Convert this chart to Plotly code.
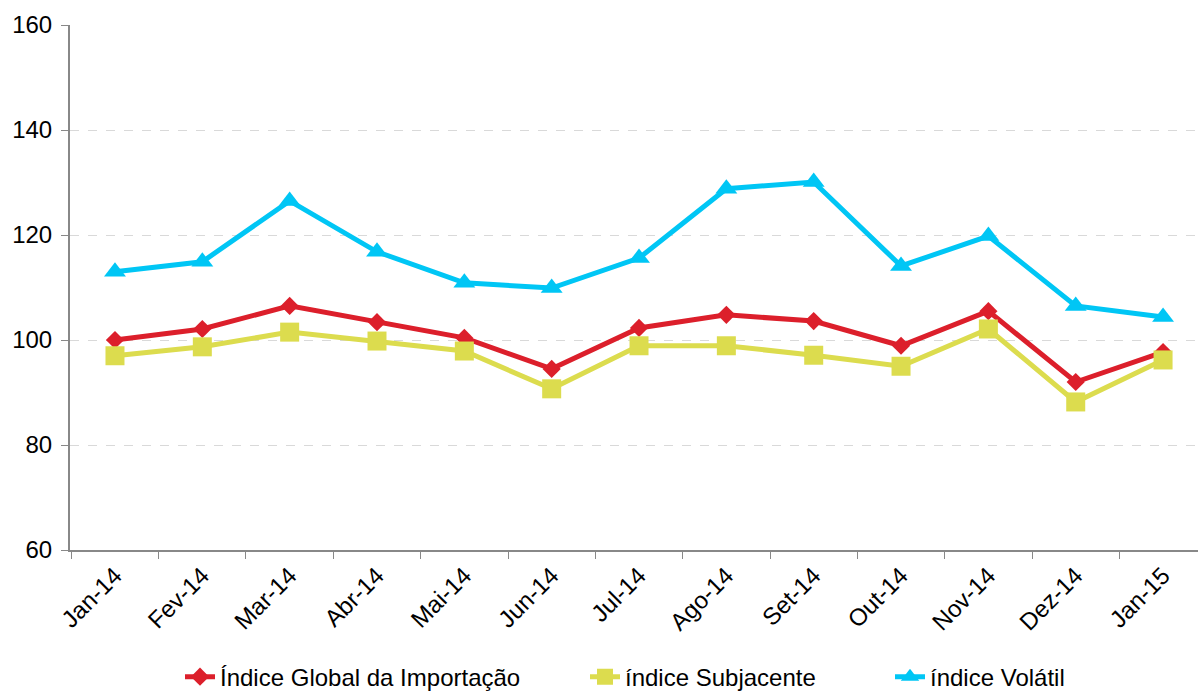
import plotly.graph_objects as go

months = ["Jan-14", "Fev-14", "Mar-14", "Abr-14", "Mai-14", "Jun-14", "Jul-14",
          "Ago-14", "Set-14", "Out-14", "Nov-14", "Dez-14", "Jan-15"]
global_idx = [100.0, 102.1, 106.5, 103.4, 100.4, 94.5, 102.3, 104.8, 103.6, 98.9, 105.5, 92.0, 97.7]
subjacente = [97.0, 98.7, 101.5, 99.8, 97.9, 90.7, 98.9, 98.9, 97.1, 95.0, 102.1, 88.2, 96.2]
volatil = [113.0, 114.9, 126.5, 116.8, 110.9, 109.9, 115.6, 128.8, 130.1, 114.1, 119.8, 106.5, 104.4]
y_ticks = [60, 80, 100, 120, 140, 160]

FONT = "Liberation Sans, Arial, sans-serif"
FS = 24

fig = go.Figure()
fig.add_trace(go.Scatter(x=months, y=global_idx, mode="lines+markers",
                         name="Índice Global da Importação", legend="legend",
                         line=dict(color="#DC1F2B", width=5),
                         marker=dict(symbol="diamond", size=14, color="#DC1F2B")))
fig.add_trace(go.Scatter(x=months, y=subjacente, mode="lines+markers",
                         name="índice Subjacente", legend="legend2",
                         line=dict(color="#DCDC4E", width=5),
                         marker=dict(symbol="square", size=19, color="#DCDC4E")))
fig.add_trace(go.Scatter(x=months, y=volatil, mode="lines+markers",
                         name="índice Volátil", legend="legend3",
                         line=dict(color="#00C6F5", width=5),
                         marker=dict(symbol="triangle-up", size=19, color="#00C6F5")))

def leg(px):
    return dict(orientation="h", x=(px - 70) / 1128, xanchor="left", y=-0.242,
                yanchor="middle", font=dict(size=FS, family=FONT), bgcolor="rgba(0,0,0,0)")

fig.update_layout(
    width=1198, height=700,
    margin=dict(l=70, r=0, t=25, b=143),
    paper_bgcolor="white", plot_bgcolor="white",
    font=dict(family=FONT, size=FS, color="#000000"),
    showlegend=True,
    legend=leg(180), legend2=leg(585), legend3=leg(890),
    xaxis=dict(type="category", range=[-0.515, 12.40], tickangle=-45, automargin=False,
               tickson="boundaries", ticks="outside", ticklen=7, tickcolor="#888888",
               showline=True, linecolor="#888888", linewidth=2, showgrid=False,
               tickfont=dict(size=FS)),
    yaxis=dict(range=[60, 160], tickvals=y_ticks, ticks="outside", ticklen=7, automargin=False,
               tickcolor="#888888", showline=True, linecolor="#888888", linewidth=2,
               showgrid=True, gridcolor="#D9D9D9", griddash="dash", gridwidth=1,
               zeroline=False, tickfont=dict(size=FS), ticklabelstandoff=4),
)

post = ("document.documentElement.style.margin='0';document.body.style.margin='0';"
        "document.body.style.overflow='hidden';"
        "var d=document.getElementById('{plot_id}');"
        "d.style.position='absolute';d.style.top='0px';d.style.left='0px';")

fig.write_html("out.html", config={"displayModeBar": False}, post_script=post)
